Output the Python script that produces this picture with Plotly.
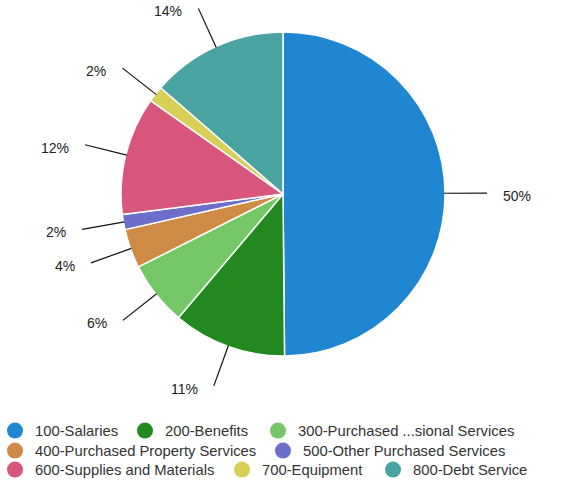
import math
import plotly.graph_objects as go

categories = ["100-Salaries", "200-Benefits", "300-Purchased ...sional Services",
              "400-Purchased Property Services", "500-Other Purchased Services",
              "600-Supplies and Materials", "700-Equipment", "800-Debt Service"]
values = [49.8, 11.3, 6.4, 3.9, 1.5, 11.8, 1.6, 13.6]
pct_labels = ["50%", "11%", "6%", "4%", "2%", "12%", "2%", "14%"]
colors = ["#1f87d2", "#21891f", "#74c666", "#cf8a45", "#6b6fc9",
          "#d8567c", "#d8cf56", "#48a3a1"]

W, H = 563, 482
ML, MR, MT, MB = 3, 0, 32, 126
PW, PH = W - ML - MR, H - MT - MB
CX, CY = ML + PW / 2, MT + PH / 2
R = min(PW, PH) / 2


def px(x):
    return (x - ML) / PW


def py(y):
    return (H - MB - y) / PH


fig = go.Figure()
fig.add_trace(go.Pie(
    labels=categories, values=values, sort=False, direction="clockwise",
    rotation=0, textinfo="none", hoverinfo="label+percent",
    marker=dict(colors=colors, line=dict(color="white", width=1.5)),
    showlegend=False,
))

# leader lines and labels computed from data
total = sum(values)
cum = 0
shapes, annotations = [], []
for v, lab in zip(values, pct_labels):
    mid = (cum + v / 2) / total * 2 * math.pi
    cum += v
    sx, sy = math.sin(mid), -math.cos(mid)
    x0, y0 = CX + (R - 1) * sx, CY + (R - 1) * sy
    x1, y1 = CX + (R + 42) * sx, CY + (R + 42) * sy
    shapes.append(dict(type="line", xref="paper", yref="paper",
                       x0=px(x0), y0=py(y0), x1=px(x1), y1=py(y1),
                       line=dict(color="#111111", width=1.2)))
    right = sx >= 0
    tx = x1 + (14 if right else -14)
    annotations.append(dict(xref="paper", yref="paper", x=px(tx), y=py(y1 + 3),
                            text=lab, showarrow=False,
                            xanchor="left" if right else "right", yanchor="middle",
                            font=dict(size=14, color="#222222",
                                      family="Liberation Sans, Arial, sans-serif")))

# legend entries: circle markers, one small legend per entry (flowing layout)
legend_rows = [431, 451, 470]
legend_pos = [(0, 15), (0, 145), (0, 278),
              (1, 15), (1, 283),
              (2, 15), (2, 242), (2, 393)]
legend_layouts = {}
for i, (row, mx) in enumerate(legend_pos):
    lname = "legend" if i == 0 else f"legend{i + 1}"
    fig.add_trace(go.Scatter(
        x=[None], y=[None], mode="markers", name=categories[i],
        marker=dict(size=16, color=colors[i], symbol="circle"),
        legend=lname, showlegend=True, hoverinfo="skip"))
    legend_layouts[lname] = dict(
        orientation="h", x=px(mx - 20), xanchor="left",
        y=py(legend_rows[row]), yanchor="middle",
        font=dict(size=14.8, color="#333333", family="Liberation Sans, Arial, sans-serif"),
        bgcolor="rgba(0,0,0,0)", itemclick=False, itemdoubleclick=False)

fig.update_layout(
    width=W, height=H,
    margin=dict(l=ML, r=MR, t=MT, b=MB, autoexpand=False),
    paper_bgcolor="white", plot_bgcolor="white",
    xaxis=dict(visible=False), yaxis=dict(visible=False),
    shapes=shapes, annotations=annotations,
    **legend_layouts,
)

fig.write_html("out.html")
